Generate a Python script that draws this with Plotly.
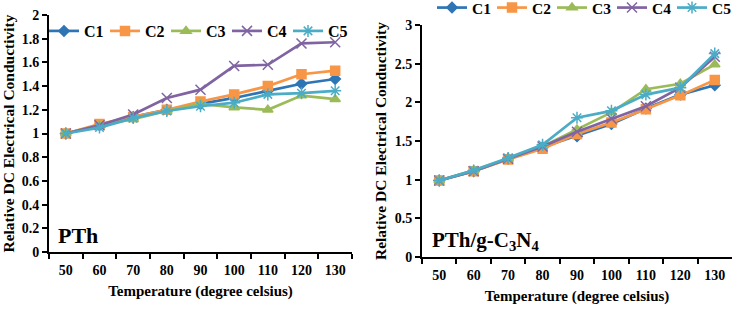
import plotly.graph_objects as go

temps = ["50", "60", "70", "80", "90", "100", "110", "120", "130"]
series_names = ["C1", "C2", "C3", "C4", "C5"]

# PTh panel
pth_c1 = [1.00, 1.07, 1.14, 1.20, 1.25, 1.30, 1.36, 1.42, 1.46]
pth_c2 = [1.00, 1.08, 1.14, 1.20, 1.27, 1.33, 1.40, 1.50, 1.53]
pth_c3 = [1.00, 1.07, 1.12, 1.19, 1.25, 1.22, 1.20, 1.32, 1.29]
pth_c4 = [1.00, 1.07, 1.16, 1.30, 1.37, 1.57, 1.58, 1.76, 1.77]
pth_c5 = [1.00, 1.05, 1.13, 1.19, 1.23, 1.26, 1.33, 1.34, 1.36]

# PTh/g-C3N4 panel
comp_c1 = [0.99, 1.11, 1.27, 1.42, 1.56, 1.72, 1.92, 2.10, 2.22]
comp_c2 = [0.99, 1.11, 1.26, 1.40, 1.59, 1.74, 1.91, 2.09, 2.29]
comp_c3 = [0.99, 1.12, 1.27, 1.43, 1.65, 1.87, 2.17, 2.24, 2.49]
comp_c4 = [0.99, 1.11, 1.27, 1.43, 1.62, 1.79, 1.95, 2.19, 2.59]
comp_c5 = [0.99, 1.12, 1.28, 1.45, 1.80, 1.89, 2.10, 2.19, 2.63]

left_ticks = [0, 0.2, 0.4, 0.6, 0.8, 1, 1.2, 1.4, 1.6, 1.8, 2]
right_ticks = [0, 0.5, 1, 1.5, 2, 2.5, 3]

colors = ["#2E75B6", "#F79646", "#9BBB59", "#8064A2", "#4BACC6"]
symbols = ["diamond", "square", "triangle-up", "x-thin-open", "asterisk-open"]
sizes = [8, 9, 9, 10, 10]

FONT = "Liberation Serif"

fig = go.Figure()

for name, ys, c, s, sz in zip(series_names, [pth_c1, pth_c2, pth_c3, pth_c4, pth_c5], colors, symbols, sizes):
    fig.add_trace(go.Scatter(
        x=temps, y=ys, name=name, mode="lines+markers",
        line=dict(color=c, width=2.7),
        marker=dict(symbol=s, size=sz, color=c, line=dict(color=c, width=1.5)),
        xaxis="x", yaxis="y", legend="legend"))

for name, ys, c, s, sz in zip(series_names, [comp_c1, comp_c2, comp_c3, comp_c4, comp_c5], colors, symbols, sizes):
    fig.add_trace(go.Scatter(
        x=temps, y=ys, name=name, mode="lines+markers",
        line=dict(color=c, width=2.7),
        marker=dict(symbol=s, size=sz, color=c, line=dict(color=c, width=1.5)),
        xaxis="x2", yaxis="y2", legend="legend2"))

W, H = 734, 309

def fx(px):
    return px / W

def fy(py):
    return (H - py) / H

xcommon = dict(type="category", tickson="boundaries", ticks="outside", ticklen=5,
               tickwidth=1.5, tickcolor="black", showline=True, linecolor="black",
               linewidth=2, showgrid=False, zeroline=False, range=[-0.5, 8.5],
               automargin=False, ticklabelstandoff=4,
               tickfont=dict(family=FONT, size=14, color="black", weight="bold"),
               title=dict(text="<b>Temperature (degree celsius)</b>",
                          font=dict(family=FONT, size=15, color="black"), standoff=9))

ycommon = dict(ticks="outside", ticklen=5, tickwidth=1.5, tickcolor="black",
               showline=True, linecolor="black", linewidth=2, showgrid=False,
               zeroline=False, automargin=False,
               tickfont=dict(family=FONT, size=14, color="black", weight="bold"),
               title=dict(text="<b>Relative DC Electrical Conductivity</b>",
                          font=dict(family=FONT, size=15.5, color="black"), standoff=4))

fig.update_layout(
    width=W, height=H, margin=dict(l=0, r=0, t=0, b=0, autoexpand=False),
    paper_bgcolor="white", plot_bgcolor="white",
    xaxis=dict(domain=[fx(49), fx(352)], anchor="y", **xcommon),
    yaxis=dict(domain=[fy(252), fy(15)], anchor="x", range=[0, 2],
               tickvals=left_ticks, **ycommon),
    xaxis2=dict(domain=[fx(422), fx(732)], anchor="y2", **xcommon),
    yaxis2=dict(domain=[fy(257), fy(25)], anchor="x2", range=[0, 3],
                tickvals=right_ticks, **ycommon),
    legend=dict(orientation="h", x=fx(34), y=fy(31), xanchor="left", yanchor="middle",
                bgcolor="rgba(0,0,0,0)", itemwidth=30,
                borderwidth=10, bordercolor="rgba(0,0,0,0)",
                entrywidth=16, entrywidthmode="pixels",
                font=dict(family=FONT, size=16, color="black", weight="bold")),
    legend2=dict(orientation="h", x=fx(422), y=fy(8), xanchor="left", yanchor="middle",
                 bgcolor="rgba(0,0,0,0)", itemwidth=30,
                 borderwidth=10, bordercolor="rgba(0,0,0,0)",
                 entrywidth=15, entrywidthmode="pixels",
                 font=dict(family=FONT, size=15.5, color="black", weight="bold")),
    showlegend=True,
    annotations=[
        dict(text="<b>PTh</b>", x=fx(56), y=fy(250), xref="paper", yref="paper",
             xanchor="left", yanchor="bottom", showarrow=False,
             font=dict(family=FONT, size=22, color="black")),
        dict(text="<b>PTh/g-C<sub>3</sub>N<sub>4</sub></b>", x=fx(430), y=fy(256),
             xref="paper", yref="paper", xanchor="left", yanchor="bottom",
             showarrow=False, font=dict(family=FONT, size=21, color="black")),
    ],
)

fig.write_html("out.html", config={"displayModeBar": False},
               post_script="document.body.style.margin='0';")
